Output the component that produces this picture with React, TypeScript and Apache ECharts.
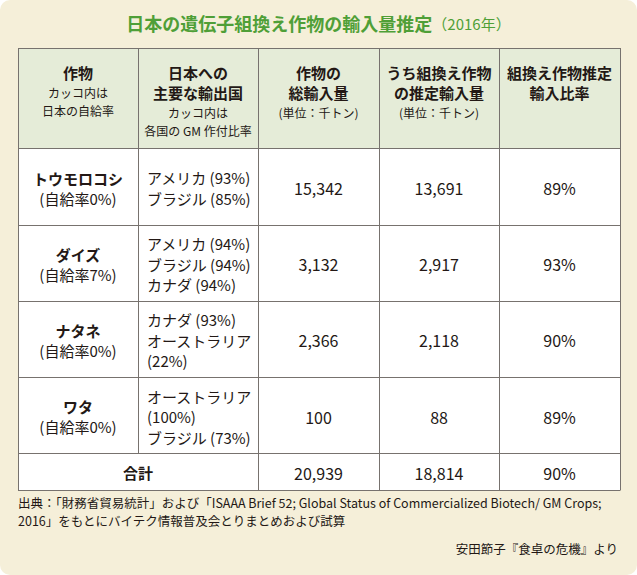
import React, { useEffect, useRef } from "react";
import * as echarts from "echarts";

// ---- data ----
const titleMain = "日本の遺伝子組換え作物の輸入量推定";
const titleYear = "（2016年）";

const headerMain = [
  ["作物"],
  ["日本への", "主要な輸出国"],
  ["作物の", "総輸入量"],
  ["うち組換え作物", "の推定輸入量"],
  ["組換え作物推定", "輸入比率"],
];
const headerSub = [
  ["カッコ内は", "日本の自給率"],
  ["カッコ内は", "各国の GM 作付比率"],
  ["(単位：千トン)"],
  ["(単位：千トン)"],
  [],
];

const crops = ["トウモロコシ", "ダイズ", "ナタネ", "ワタ"];
const selfSufficiency = [0, 7, 0, 0];
const exporterNames = [
  ["アメリカ", "ブラジル"],
  ["アメリカ", "ブラジル", "カナダ"],
  ["カナダ", "オーストラリア"],
  ["オーストラリア", "ブラジル"],
];
const exporterGmShare = [
  [93, 85],
  [94, 94, 94],
  [93, 22],
  [100, 73],
];
const totalImports = [15342, 3132, 2366, 100];
const gmImports = [13691, 2917, 2118, 88];
const gmRatio = [89, 93, 90, 89];

const totalLabel = "合計";
const totalImportsSum = 20939;
const gmImportsSum = 18814;
const gmRatioTotal = 90;

const sourceLine1 =
  "出典：「財務省貿易統計」および「ISAAA Brief 52; Global Status of Commercialized Biotech/ GM Crops;";
const sourceLine2 = "2016」をもとにバイテク情報普及会とりまとめおよび試算";
const credit = "安田節子『食卓の危機』より";

// ---- layout ----
const W = 637;
const H = 575;
const colX = [18, 138, 258, 379, 499, 620];
const rowY = [48, 148, 225, 300.5, 377, 453, 490];
const FONT = '"Noto Sans CJK JP", "Noto Sans", sans-serif';
const TEXT = "#231815";
const GRID = "#77726e";

function txt(text: string, x: number, y: number, o: any = {}) {
  return {
    type: "text",
    x,
    y,
    style: {
      text,
      fill: o.fill || TEXT,
      fontFamily: FONT,
      fontSize: o.size || 14,
      fontWeight: o.weight || "normal",
      align: o.align || "center",
      verticalAlign: "middle",
    },
  };
}

function line(x1: number, y1: number, x2: number, y2: number) {
  return {
    type: "line",
    shape: { x1, y1, x2, y2 },
    style: { stroke: GRID, lineWidth: 1 },
  };
}

const px = (v: number) => Math.round(v) + 0.5;
const fmt = (n: number) => n.toLocaleString("en-US");

export default function App() {
  const ref = useRef<HTMLDivElement>(null);
  useEffect(() => {
    const chart = echarts.init(ref.current!, null, {
      renderer: "svg",
      width: W,
      height: H,
    });
    const els: any[] = [];
    // background
    els.push({
      type: "rect",
      shape: { x: 0, y: 0, width: W, height: H, r: 10 },
      style: { fill: "#f5efd9" },
    });
    // title
    els.push({
      type: "text",
      x: W / 2,
      y: 23,
      style: {
        text: `{a|${titleMain}}{b|${titleYear}}`,
        align: "center",
        verticalAlign: "middle",
        rich: {
          a: {
            fontFamily: FONT,
            fontSize: 18,
            fontWeight: "bold",
            fill: "#4f9f37",
            color: "#4f9f37",
          },
          b: {
            fontFamily: FONT,
            fontSize: 15,
            fill: "#4f9f37",
            color: "#4f9f37",
          },
        },
      },
    });
    // table fills
    const tl = colX[0];
    const tr = colX[colX.length - 1];
    els.push({
      type: "rect",
      shape: { x: tl, y: rowY[0], width: tr - tl, height: rowY[1] - rowY[0] },
      style: { fill: "#e5ecd8" },
    });
    els.push({
      type: "rect",
      shape: {
        x: tl,
        y: rowY[1],
        width: tr - tl,
        height: rowY[rowY.length - 1] - rowY[1],
      },
      style: { fill: "#ffffff" },
    });
    // grid lines
    rowY.forEach((y) => els.push(line(tl, px(y), tr, px(y))));
    const lastRowTop = rowY[rowY.length - 2];
    colX.forEach((x, i) => {
      if (i === 1) {
        els.push(line(px(x), rowY[0], px(x), px(lastRowTop)));
      } else {
        els.push(line(px(x), rowY[0], px(x), rowY[rowY.length - 1] + 0.5));
      }
    });

    const colCenter = (i: number) => (colX[i] + colX[i + 1]) / 2;

    // header
    headerMain.forEach((lines, i) => {
      let y = 72;
      lines.forEach((t) => {
        els.push(txt(t, colCenter(i), y, { size: 15, weight: "bold" }));
        y += 20;
      });
      headerSub[i].forEach((t) => {
        els.push(txt(t, colCenter(i), y, { size: 12 }));
        y += 18.5;
      });
    });

    // body rows
    crops.forEach((crop, r) => {
      const cy = (rowY[r + 1] + rowY[r + 2]) / 2 + 1.5;
      // col1
      els.push(txt(crop, colCenter(0), cy - 10, { size: 15, weight: "bold" }));
      els.push(
        txt(`(自給率${selfSufficiency[r]}%)`, colCenter(0), cy + 10, {
          size: 15,
        })
      );
      // col2
      const lines: string[] = [];
      exporterNames[r].forEach((name, k) => {
        const pct = exporterGmShare[r][k];
        if (name.length >= 7) {
          lines.push(name);
          lines.push(`(${pct}%)`);
        } else {
          lines.push(`${name} (${pct}%)`);
        }
      });
      const step = 20.5;
      const y0 = cy - ((lines.length - 1) * step) / 2;
      lines.forEach((t, k) => {
        els.push(
          txt(t, colX[1] + 9, y0 + k * step, { size: 15, align: "left" })
        );
      });
      els.push(txt(fmt(totalImports[r]), colCenter(2), cy, { size: 16 }));
      els.push(txt(fmt(gmImports[r]), colCenter(3), cy, { size: 16 }));
      els.push(txt(`${gmRatio[r]}%`, colCenter(4), cy, { size: 16 }));
    });

    // total row
    const ty = (rowY[rowY.length - 2] + rowY[rowY.length - 1]) / 2 + 1;
    els.push(
      txt(totalLabel, (colX[0] + colX[2]) / 2, ty, { size: 15, weight: "bold" })
    );
    els.push(txt(fmt(totalImportsSum), colCenter(2), ty, { size: 16 }));
    els.push(txt(fmt(gmImportsSum), colCenter(3), ty, { size: 16 }));
    els.push(txt(`${gmRatioTotal}%`, colCenter(4), ty, { size: 16 }));

    // footer
    els.push(txt(sourceLine1, tl, 502, { size: 12.5, align: "left" }));
    els.push(txt(sourceLine2, tl, 520, { size: 12.5, align: "left" }));
    els.push(txt(credit, tr - 2, 548, { size: 12.5, align: "right" }));

    chart.setOption({ animation: false, graphic: { elements: els } });
    return () => chart.dispose();
  }, []);
  return (
    <div
      ref={ref}
      style={{ position: "absolute", left: 0, top: 0, width: W, height: H }}
    />
  );
}
